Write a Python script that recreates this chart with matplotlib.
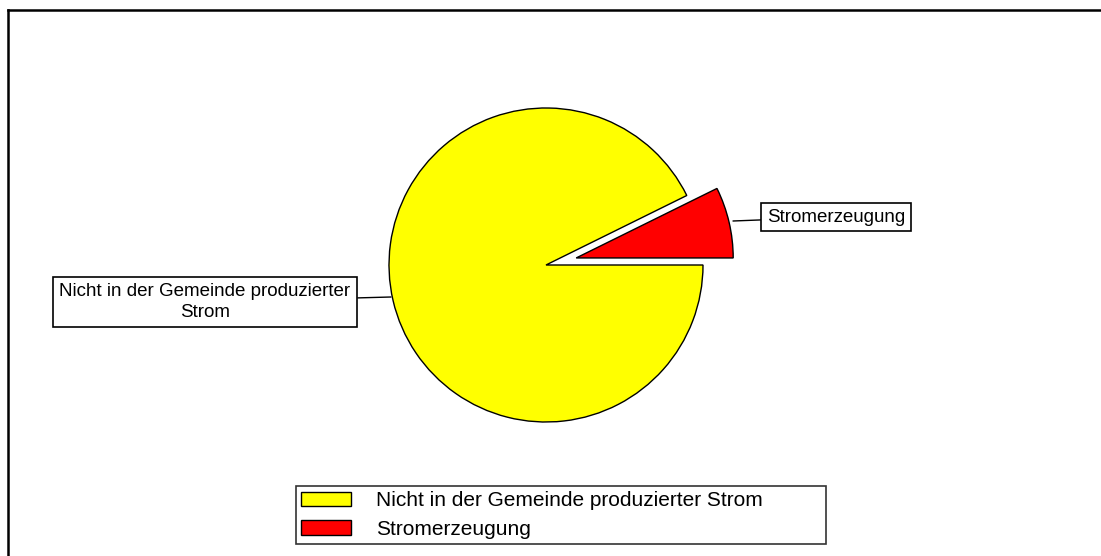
import matplotlib.pyplot as plt
from matplotlib.lines import Line2D

plt.rcParams['font.family'] = ['Liberation Sans', 'DejaVu Sans']

# data
labels = ['Nicht in der Gemeinde produzierter Strom', 'Stromerzeugung']
box_labels = ['Nicht in der Gemeinde produzierter\nStrom', 'Stromerzeugung']
shares = [92.7, 7.3]
colors = ['#ffff00', '#ff0000']

W, H = 1101, 556
fig = plt.figure(figsize=(W / 100, H / 100), dpi=100)
ax = fig.add_axes([0, 0, 1, 1])
ax.set_xlim(0, W)
ax.set_ylim(0, H)
ax.set_aspect('equal')
ax.axis('off')

# pie, centre and radius in pixel units (explode is in the same units)
cx, cy, r = 546, H - 265, 157
wedges, _ = ax.pie(shares, colors=colors, startangle=shares[1] / 100 * 360,
                   counterclock=True, explode=[0, 31], center=(cx, cy), radius=r,
                   wedgeprops=dict(edgecolor='black', linewidth=1))
ax.set_xlim(0, W)
ax.set_ylim(0, H)

box = dict(boxstyle='square,pad=0.35', fc='white', ec='black', lw=1.2)
line = dict(arrowstyle='-', color='black', lw=1,
            connectionstyle='arc3,rad=0', shrinkA=0, shrinkB=0)

# labels with leader lines
ax.annotate(box_labels[0], xy=(391, H - 297), xytext=(205, H - 302),
            fontsize=13.5, ha='center', va='center', bbox=box, arrowprops=line,
            multialignment='center', linespacing=1.25)
ax.annotate(box_labels[1], xy=(733, H - 221), xytext=(836, H - 217),
            fontsize=13.5, ha='center', va='center',
            bbox=dict(boxstyle='square,pad=0.3', fc='white', ec='black', lw=1.2),
            arrowprops=line)

leg = fig.legend(wedges, labels, loc='upper left',
                 bbox_to_anchor=(296 / W, 1 - 486 / H, 530 / W, 0.0), mode='expand',
                 fontsize=15, frameon=True, fancybox=False, handlelength=2.4,
                 handleheight=0.72, handletextpad=1.2, labelspacing=0.45,
                 borderpad=0.25, borderaxespad=0)
leg.get_frame().set_edgecolor('black')
leg.get_frame().set_linewidth(1.2)

# outer border (top and left)
fig.add_artist(Line2D([8 / W, 8 / W], [0, 1 - 10 / H], color='black', lw=1.8))
fig.add_artist(Line2D([8 / W, 1], [1 - 10 / H, 1 - 10 / H], color='black', lw=1.8))

fig.savefig('out.png', dpi=100)
